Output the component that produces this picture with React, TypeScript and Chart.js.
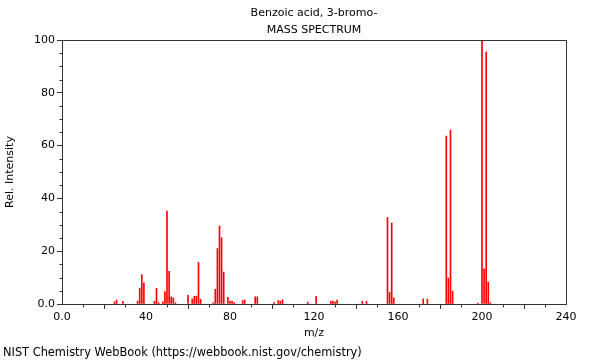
import React, { useEffect, useRef } from 'react';
import { Chart, registerables } from 'chart.js';

Chart.register(...registerables);

const titleLines = ['Benzoic acid, 3-bromo-', 'MASS SPECTRUM'];
const footerText = 'NIST Chemistry WebBook (https://webbook.nist.gov/chemistry)';
const xAxisTitle = 'm/z';
const yAxisTitle = 'Rel. Intensity';

const mz = [
  25, 26, 29, 36, 37, 38, 39, 44, 45, 46,
  48, 49, 50, 51, 52, 53, 54, 60, 62, 63,
  64, 65, 66, 72, 73, 74, 75, 76, 77, 79,
  80, 81, 82, 86, 87, 92, 93, 101, 103, 104,
  105, 117, 121, 128, 129, 130, 131, 143, 145, 155,
  156, 157, 158, 172, 174, 183, 184, 185, 186, 198,
  200, 201, 202, 203, 204,
];
const intensity = [
  0.8, 1.5, 1.0, 1.1, 5.9, 11.1, 8.0, 1.0, 5.9, 0.5,
  0.8, 4.7, 35.2, 12.4, 2.7, 2.3, 0.5, 3.3, 1.9, 2.9,
  3.0, 15.8, 1.8, 0.5, 5.6, 21.0, 29.5, 25.1, 12.1, 2.5,
  1.0, 1.0, 0.5, 1.3, 1.5, 2.7, 2.7, 0.5, 1.3, 1.0,
  1.6, 0.7, 2.9, 1.0, 1.1, 0.7, 1.5, 1.0, 1.0, 32.8,
  4.5, 30.7, 2.3, 1.9, 1.8, 63.6, 9.8, 65.9, 4.9, 0.3,
  100, 13.3, 95.5, 8.3, 0.5,
];

const xMin = 0;
const xMax = 240;
const xMajorStep = 40;
const xMinorStep = 10;
const yMin = 0;
const yMax = 100;
const yMajorStep = 20;
const yMinorStep = 5;

const FONT = '"DejaVu Sans", sans-serif';
const AXIS_COLOR = '#333333';

const align = (v: number) => Math.round(v) + 0.5;

const decorPlugin = {
  id: 'decor',
  afterDraw(chart: any) {
    const { ctx, chartArea: a, scales } = chart;
    const xs = scales.x;
    const ys = scales.y;
    ctx.save();
    ctx.strokeStyle = AXIS_COLOR;
    ctx.lineWidth = 1;
    const l = align(a.left), r = align(a.right), t = align(a.top), b = align(a.bottom);
    ctx.beginPath();
    ctx.moveTo(l, t);
    ctx.lineTo(r, t);
    ctx.lineTo(r, b);
    ctx.moveTo(l, t);
    ctx.lineTo(l, b);
    ctx.lineTo(r, b);
    ctx.stroke();
    ctx.beginPath();
    for (let v = yMin; v <= yMax; v += yMinorStep) {
      if (v % yMajorStep === 0) continue;
      const y = align(ys.getPixelForValue(v));
      ctx.moveTo(l - 3, y);
      ctx.lineTo(l, y);
    }
    for (let v = xMin; v <= xMax; v += xMinorStep) {
      if (v % xMajorStep === 0) continue;
      const x = align(xs.getPixelForValue(v));
      ctx.moveTo(x, b);
      ctx.lineTo(x, b + 3);
    }
    ctx.stroke();
    ctx.fillStyle = '#000';
    ctx.font = `11px ${FONT}`;
    ctx.textAlign = 'center';
    ctx.textBaseline = 'middle';
    const cx = (a.left + a.right) / 2;
    ctx.fillText(titleLines[0], cx, 13);
    ctx.fillText(titleLines[1], cx, 30);
    ctx.font = `11.4px ${FONT}`;
    ctx.textAlign = 'left';
    ctx.fillText(footerText, 3, 353);
    ctx.restore();
  },
};

export default function App() {
  const canvasRef = useRef<HTMLCanvasElement | null>(null);

  useEffect(() => {
    document.body.style.margin = '0';
    const canvas = canvasRef.current;
    if (!canvas) return;
    const fmt = (v: any) => (Number(v) === 0 ? '0.0' : String(v));
    const chart = new Chart(canvas, {
      type: 'bar',
      data: {
        datasets: [
          {
            data: mz.map((m, i) => ({ x: m, y: intensity[i] })),
            backgroundColor: '#ff0000',
            borderWidth: 0,
            barThickness: 1,
          },
        ],
      },
      options: {
        animation: false,
        responsive: false,
        devicePixelRatio: 1,
        layout: { padding: { top: 40, right: 34, bottom: 20, left: 0 } },
        plugins: {
          legend: { display: false },
          tooltip: { enabled: false },
          title: { display: false },
        },
        scales: {
          x: {
            type: 'linear',
            min: xMin,
            max: xMax,
            offset: false,
            afterFit: (s: any) => {
              s.height = 36;
            },
            ticks: {
              stepSize: xMajorStep,
              color: '#000',
              font: { family: FONT, size: 11 },
              padding: 2,
              maxRotation: 0,
              callback: fmt,
            },
            grid: {
              display: true,
              drawOnChartArea: false,
              drawTicks: true,
              tickLength: 5,
              tickColor: AXIS_COLOR,
            },
            border: { display: true, color: AXIS_COLOR },
            title: {
              display: true,
              text: xAxisTitle,
              color: '#000',
              font: { family: FONT, size: 11 },
              padding: { top: 0, bottom: 0 },
            },
          },
          y: {
            type: 'linear',
            min: yMin,
            max: yMax,
            afterFit: (s: any) => {
              s.width = 62;
            },
            ticks: {
              stepSize: yMajorStep,
              color: '#000',
              font: { family: FONT, size: 11 },
              padding: 2,
              callback: fmt,
            },
            grid: {
              display: true,
              drawOnChartArea: false,
              drawTicks: true,
              tickLength: 5,
              tickColor: AXIS_COLOR,
            },
            border: { display: true, color: AXIS_COLOR },
            title: {
              display: true,
              text: yAxisTitle,
              color: '#000',
              font: { family: FONT, size: 11 },
              padding: { top: 4, bottom: 0 },
            },
          },
        },
      },
      plugins: [decorPlugin],
    });
    return () => chart.destroy();
  }, []);

  return (
    <div style={{ width: 600, height: 360 }}>
      <canvas ref={canvasRef} width={600} height={360} style={{ display: 'block' }} />
    </div>
  );
}
